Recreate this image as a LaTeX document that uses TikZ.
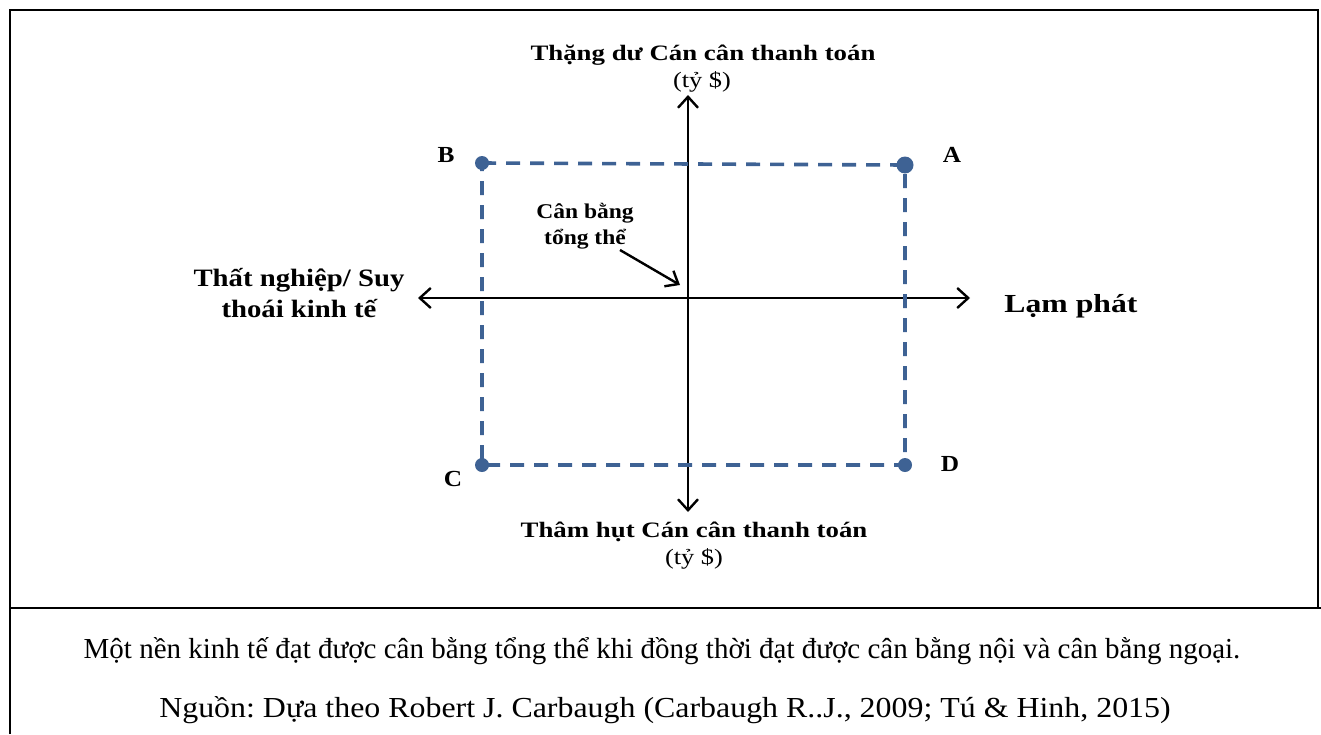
\documentclass[tikz,border=0pt]{standalone}
\usepackage{fontspec}
\setmainfont{Liberation Serif}
\usepackage{xcolor}
\usepackage{graphicx}
\usetikzlibrary{positioning, arrows.meta}
\definecolor{dotblue}{RGB}{62,98,148}
\frenchspacing
% stretched label text
\newcommand{\stretchtext}[2]{\scalebox{#1}[1]{\begin{tabular}{@{}c@{}}#2\end{tabular}}}

\begin{document}
\begin{tikzpicture}[x=0.5pt, y=-0.5pt,
    frame/.style={line width=1pt},
    axis/.style={line width=1.2pt, -{Straight Barb[length=5.5pt, width=10pt, line width=1.2pt]}},
    pointer/.style={line width=1.2pt, -{Straight Barb[length=5.5pt, width=9pt, line width=1.2pt]}},
    dashline/.style={dotblue, line width=1.8pt, dash pattern=on 7pt off 5pt},
    corner/.style={circle, fill=dotblue, inner sep=0pt, minimum size=7pt},
    axlabel/.style={font=\bfseries\fontsize{11}{13}\selectfont, inner sep=1pt},
    unitlabel/.style={font=\fontsize{11}{13}\selectfont, inner sep=1pt},
    ptlabel/.style={font=\bfseries\fontsize{11.5}{13}\selectfont, inner sep=1pt},
    note/.style={font=\fontsize{14.5}{17}\selectfont, inner sep=1pt}
]
    \useasboundingbox (0,0) rectangle (1321,734);

    % frame
    \draw[frame] (10,608) -- (10,10) -- (1318,10) -- (1318,608);
    \draw[frame] (10,734) -- (10,608) -- (1321,608);

    % axes
    \coordinate (O) at (688,298);
    \coordinate (up) at (688,95);
    \coordinate (down) at (688,512);
    \coordinate (left) at (418,298);
    \coordinate (right) at (970,298);
    \draw[axis] (O) -- (up);
    \draw[axis] (O) -- (down);
    \draw[axis] (O) -- (left);
    \draw[axis] (O) -- (right);

    % dashed box
    \node[corner] (B) at (482,163) {};
    \node[corner, minimum size=8.5pt] (A) at (905,165) {};
    \node[corner] (C) at (482,465) {};
    \node[corner] (D) at (905,465) {};
    \draw[dashline] (B.center) -- (A.center) -- (D.center) -- (C.center) -- cycle;

    \node[ptlabel] (labB) at (446,157) {\stretchtext{1.1}{B}};
    \node[ptlabel] (labA) at (952,157) {\stretchtext{1.1}{A}};
    \node[ptlabel] (labC) at (453,481) {\stretchtext{1.1}{C}};
    \node[ptlabel] (labD) at (950,466) {\stretchtext{1.1}{D}};

    % axis labels
    \node[axlabel] (surplus) at (703,55) {\stretchtext{1.22}{Thặng dư Cán cân thanh toán}};
    \node[unitlabel] (unitup) at (702,82) {\stretchtext{1.2}{(tỷ \$)}};
    \node[axlabel] (deficit) at (694,532) {\stretchtext{1.22}{Thâm hụt Cán cân thanh toán}};
    \node[unitlabel] (unitdown) at (694,559) {\stretchtext{1.2}{(tỷ \$)}};
    \node[axlabel, font=\bfseries\fontsize{12.5}{15.5}\selectfont] (slump) at (299,296) {\stretchtext{1.15}{Thất nghiệp/ Suy\\thoái kinh tế}};
    \node[axlabel, font=\bfseries\fontsize{13}{15}\selectfont] (infl) at (1071,306) {\stretchtext{1.22}{Lạm phát}};

    % overall balance
    \node[axlabel, font=\bfseries\fontsize{10.5}{13}\selectfont] (balance) at (585,226) {\stretchtext{1.12}{Cân bằng\\tổng thể}};
    \coordinate (eq) at (680,285);
    \draw[pointer] (620,250) -- (eq);

    % caption
    \node[note] (cap1) at (662,651) {Một nền kinh tế đạt được cân bằng tổng thể khi đồng thời đạt được cân bằng nội và cân bằng ngoại.};
    \node[note] (cap2) at (665,711) {\stretchtext{1.1}{Nguồn: Dựa theo Robert J. Carbaugh (Carbaugh R..J., 2009; Tú \& Hinh, 2015)}};
\end{tikzpicture}
\end{document}
